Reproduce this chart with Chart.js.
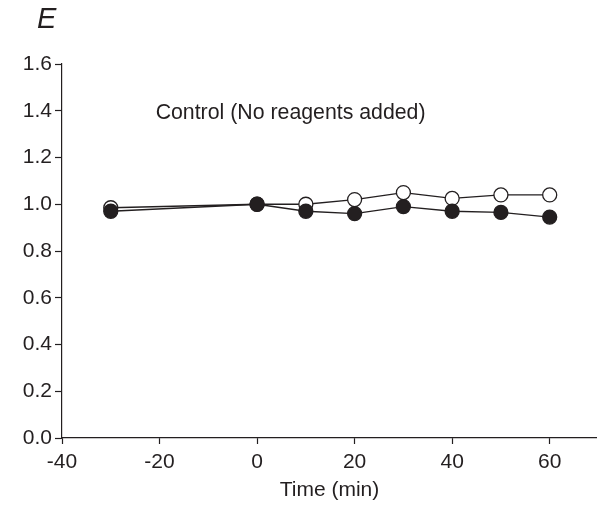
<!DOCTYPE html>
<html lang="en">
<head>
    <meta charset="utf-8">
    <title>Control (No reagents added)</title>
    <script src="https://cdn.jsdelivr.net/npm/chart.js"></script>
    <style>
        body { margin: 0; background: #fff; }
    </style>
</head>
<body>
<canvas id="chart" width="597" height="508"></canvas>
<script>
    // time points (min) and normalised values
    const times = [-30, 0, 10, 20, 30, 40, 50, 60]
    const openValues = [0.985, 1.0, 1.0, 1.02, 1.05, 1.025, 1.04, 1.04]
    const filledValues = [0.97, 1.0, 0.97, 0.96, 0.99, 0.97, 0.965, 0.945]
    const xTicks = [-40, -20, 0, 20, 40, 60]
    const yTicks = [0, 0.2, 0.4, 0.6, 0.8, 1.0, 1.2, 1.4, 1.6]
    const panelLabel = 'E'
    const noteText = 'Control (No reagents added)'

    const fontFamily = '"Liberation Sans", Arial, sans-serif'
    const ink = '#231f20'

    function toPoints(vals) {
        return times.map((t, i) => ({x: t, y: vals[i]}))
    }

    const textPlugin = {
        id: 'textPlugin',
        afterDraw(chart) {
            const ctx = chart.ctx
            const x = chart.scales.x
            const y = chart.scales.y
            ctx.save()
            ctx.fillStyle = ink
            ctx.font = 'italic 29px ' + fontFamily
            ctx.textBaseline = 'alphabetic'
            ctx.textAlign = 'left'
            ctx.fillText(panelLabel, 37, 28)
            ctx.font = '21.3px ' + fontFamily
            ctx.textBaseline = 'middle'
            ctx.fillText(noteText, x.getPixelForValue(-20.8), y.getPixelForValue(1.39))
            ctx.restore()
        }
    }

    new Chart(document.getElementById('chart'), {
        type: 'line',
        data: {
            datasets: [{
                label: 'filled',
                data: toPoints(filledValues),
                borderColor: ink,
                borderWidth: 1.3,
                backgroundColor: ink,
                pointBackgroundColor: ink,
                pointBorderColor: ink,
                pointBorderWidth: 1.3,
                pointRadius: 7,
                tension: 0
            }, {
                label: 'open',
                data: toPoints(openValues),
                borderColor: ink,
                borderWidth: 1.3,
                pointBackgroundColor: '#fff',
                pointBorderColor: ink,
                pointBorderWidth: 1.3,
                pointRadius: 7,
                tension: 0
            }]
        },
        options: {
            responsive: false,
            animation: false,
            layout: {autoPadding: false, padding: {top: 64, right: 0, left: 0, bottom: 0}},
            plugins: {
                legend: {display: false},
                tooltip: {enabled: false}
            },
            scales: {
                x: {
                    type: 'linear',
                    min: -40,
                    max: 69.7,
                    afterBuildTicks: axis => { axis.ticks = xTicks.map(v => ({value: v})) },
                    afterFit: axis => {
                        axis.height = 70
                        axis.paddingLeft = 0
                        axis.paddingRight = 0
                    },
                    border: {color: ink, width: 1.2},
                    grid: {drawOnChartArea: false, tickLength: 6, color: ink, tickWidth: 1.2},
                    ticks: {color: ink, font: {family: fontFamily, size: 21}, padding: 6, maxRotation: 0},
                    title: {display: true, text: 'Time (min)', color: ink, font: {family: fontFamily, size: 21}, padding: {top: 0, bottom: 5}}
                },
                y: {
                    min: 0,
                    max: 1.6,
                    afterBuildTicks: axis => { axis.ticks = yTicks.map(v => ({value: v})) },
                    afterFit: axis => {
                        axis.width = 62
                        axis.paddingTop = 0
                        axis.paddingBottom = 0
                    },
                    border: {color: ink, width: 1.2},
                    grid: {drawOnChartArea: false, tickLength: 7, color: ink, tickWidth: 1.2},
                    ticks: {color: ink, font: {family: fontFamily, size: 21}, padding: 3, callback: v => v.toFixed(1)}
                }
            }
        },
        plugins: [textPlugin]
    })
</script>
</body>
</html>
